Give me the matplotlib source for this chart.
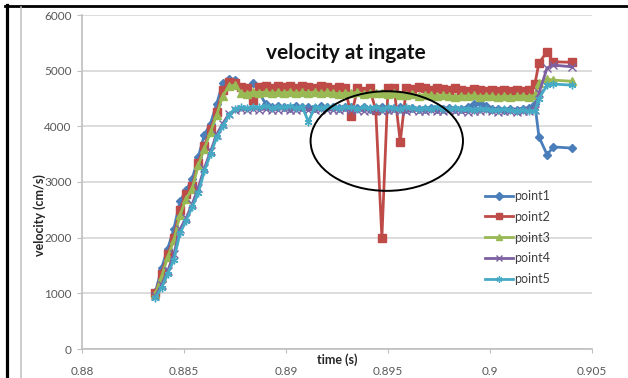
import matplotlib
matplotlib.use("Agg")
import matplotlib.pyplot as plt
from matplotlib.patches import Ellipse
from matplotlib.lines import Line2D

plt.rcParams['font.family'] = ['Lato', 'DejaVu Sans']

# time (s)
time_s = [0.8836, 0.8839, 0.8842, 0.8845, 0.8848, 0.8851, 0.8854, 0.8857, 0.8860, 0.8863,
          0.8866, 0.8869, 0.8872, 0.8875, 0.8878, 0.8881, 0.8884, 0.8887, 0.8890, 0.8893,
          0.8896, 0.8899, 0.8902, 0.8905, 0.8908, 0.8911, 0.8914, 0.8917, 0.8920, 0.8923,
          0.8926, 0.8929, 0.8932, 0.8935, 0.8938, 0.8941, 0.8944, 0.8947, 0.8950, 0.8953,
          0.8956, 0.8959, 0.8962, 0.8965, 0.8968, 0.8971, 0.8974, 0.8977, 0.8980, 0.8983,
          0.8986, 0.8989, 0.8992, 0.8995, 0.8998, 0.9001, 0.9004, 0.9007, 0.9010, 0.9013,
          0.9016, 0.9019, 0.9022, 0.9024, 0.9028, 0.9031, 0.9040]

# velocity (cm/s) at the five ingate points
point1 = [1020, 1450, 1800, 2150, 2650, 2850, 3050, 3450, 3850, 4050,
          4400, 4780, 4850, 4830, 4700, 4650, 4780, 4600, 4400, 4340,
          4360, 4350, 4330, 4360, 4340, 4350, 4330, 4360, 4340, 4350,
          4330, 4340, 4350, 4330, 4340, 4320, 4330, 4340, 4320, 4330,
          4340, 4320, 4330, 4310, 4320, 4330, 4310, 4320, 4330, 4310,
          4320, 4350, 4400, 4420, 4360, 4310, 4320, 4300, 4310, 4300,
          4320, 4330, 4400, 3810, 3490, 3630, 3610]
point2 = [1000, 1350, 1700, 2000, 2500, 2780, 2920, 3350, 3650, 3950,
          4250, 4650, 4800, 4780, 4700, 4680, 4480, 4700, 4720, 4680,
          4730, 4700, 4720, 4690, 4730, 4710, 4680, 4720, 4700, 4670,
          4710, 4690, 4180, 4680, 4640, 4680, 4290, 2000, 4690, 4680,
          3720, 4690, 4670, 4700, 4680, 4660, 4690, 4670, 4650, 4680,
          4660, 4640, 4670, 4650, 4630, 4660, 4640, 4650, 4630, 4660,
          4640, 4650, 4760, 5140, 5340, 5160, 5150]
point3 = [980, 1300, 1650, 1950, 2400, 2700, 2880, 3300, 3600, 3900,
          4200, 4550, 4720, 4740, 4600, 4580, 4620, 4600, 4620, 4590,
          4610, 4600, 4620, 4590, 4610, 4600, 4620, 4590, 4610, 4600,
          4580, 4600, 4590, 4610, 4580, 4600, 4590, 4600, 4580, 4590,
          4570, 4560, 4580, 4550, 4570, 4560, 4540, 4560, 4550, 4530,
          4550, 4540, 4560, 4530, 4550, 4540, 4520, 4550, 4530, 4540,
          4550, 4530, 4560, 4780, 4850, 4830, 4810]
point4 = [950, 1150, 1400, 1700, 2150, 2350, 2600, 2900, 3250, 3550,
          3850, 4050, 4220, 4290, 4310, 4300, 4320, 4300, 4310, 4290,
          4300, 4320, 4300, 4290, 4310, 4300, 4290, 4310, 4300, 4290,
          4300, 4310, 4290, 4300, 4280, 4300, 4290, 4280, 4300, 4290,
          4280, 4270, 4290, 4280, 4270, 4290, 4280, 4270, 4290, 4280,
          4270, 4260, 4280, 4270, 4290, 4270, 4260, 4280, 4270, 4260,
          4280, 4270, 4300, 4600, 5050, 5100, 5070]
point5 = [920, 1100, 1350, 1600, 2080, 2300, 2550, 2800, 3200, 3500,
          3800, 4000, 4200, 4320, 4340, 4330, 4350, 4340, 4360, 4330,
          4350, 4340, 4360, 4330, 4350, 4080, 4340, 4330, 4350, 4340,
          4330, 4350, 4340, 4320, 4340, 4330, 4350, 4320, 4340, 4330,
          4320, 4340, 4330, 4310, 4330, 4320, 4340, 4310, 4320, 4330,
          4310, 4320, 4300, 4320, 4310, 4290, 4300, 4310, 4290, 4280,
          4300, 4270, 4280, 4500, 4740, 4760, 4740]

series_names = ['point1', 'point2', 'point3', 'point4', 'point5']
series_colors = ['#4A7EBB', '#BE4B48', '#98B954', '#7D60A0', '#46AAC5']
series_markers = ['D', 's', '^', 'x', (6, 2, 0)]
series_sizes = [4.5, 5.5, 5.5, 5.5, 5.5]

fig = plt.figure(figsize=(6.28, 3.78), dpi=100)
ax = fig.add_axes([82 / 628, 29 / 378, 510 / 628, 334 / 378])

for vals, name, col, mk, ms in zip([point1, point2, point3, point4, point5], series_names,
                                   series_colors, series_markers, series_sizes):
    ax.plot(time_s, vals, color=col, lw=2.0, marker=mk, ms=ms, mec=col, mfc=col,
            mew=1.0, label=name)

ax.set_xlim(0.88, 0.905)
ax.set_ylim(0, 6000)
ax.set_xticks([0.88, 0.885, 0.89, 0.895, 0.9, 0.905])
ax.set_xticklabels(['0.88', '0.885', '0.89', '0.895', '0.9', '0.905'])
ax.set_yticks([0, 1000, 2000, 3000, 4000, 5000, 6000])
ax.grid(axis='y', color='#d9d9d9', lw=1.3)
ax.set_axisbelow(True)
for s in ['top', 'right']:
    ax.spines[s].set_visible(False)
for s in ['left', 'bottom']:
    ax.spines[s].set_color('#bfbfbf')
    ax.spines[s].set_linewidth(1.2)
ax.tick_params(axis='y', length=3.6, color='#bfbfbf', labelsize=8.5, labelcolor='#595959', pad=4)
ax.tick_params(axis='x', length=3, color='#bfbfbf', labelsize=8.5, labelcolor='#595959', pad=9)

# circle around the red spikes
ax.add_patch(Ellipse((0.89494, 3736), 0.00747, 1790, fill=False, ec='black', lw=1.4, zorder=10))

leg = ax.legend(loc='upper left', bbox_to_anchor=(485 / 628, 1 - 190 / 378),
                bbox_transform=fig.transFigure, frameon=False, fontsize=9,
                handlelength=2.2, handletextpad=0.15, labelspacing=0.7, borderpad=0,
                borderaxespad=0, markerscale=0.8)
for t in leg.get_texts():
    t.set_color('#404040')

fig.text(346 / 628, 1 - 53 / 378, 'velocity at ingate', ha='center', va='center',
         fontsize=15, fontweight='bold', color='#111111')
fig.text(39.5 / 628, 1 - 215 / 378, 'velocity (cm/s)', rotation=90, ha='center', va='center',
         fontsize=9, fontweight='bold', color='#262626')
fig.text(337 / 628, 1 - 360 / 378, 'time (s)', ha='center', va='center',
         fontsize=9, fontweight='bold', color='#262626')

# screenshot frame
fig.add_artist(Line2D([5 / 628, 1], [1 - 6 / 378, 1 - 6 / 378], color='black', lw=2.0))
fig.add_artist(Line2D([6.5 / 628, 6.5 / 628], [0, 1 - 5 / 378], color='black', lw=2.3))
fig.add_artist(Line2D([20.5 / 628, 20.5 / 628], [0, 1 - 7 / 378], color='#bfbfbf', lw=1.1))

fig.savefig('out.png', dpi=100)
